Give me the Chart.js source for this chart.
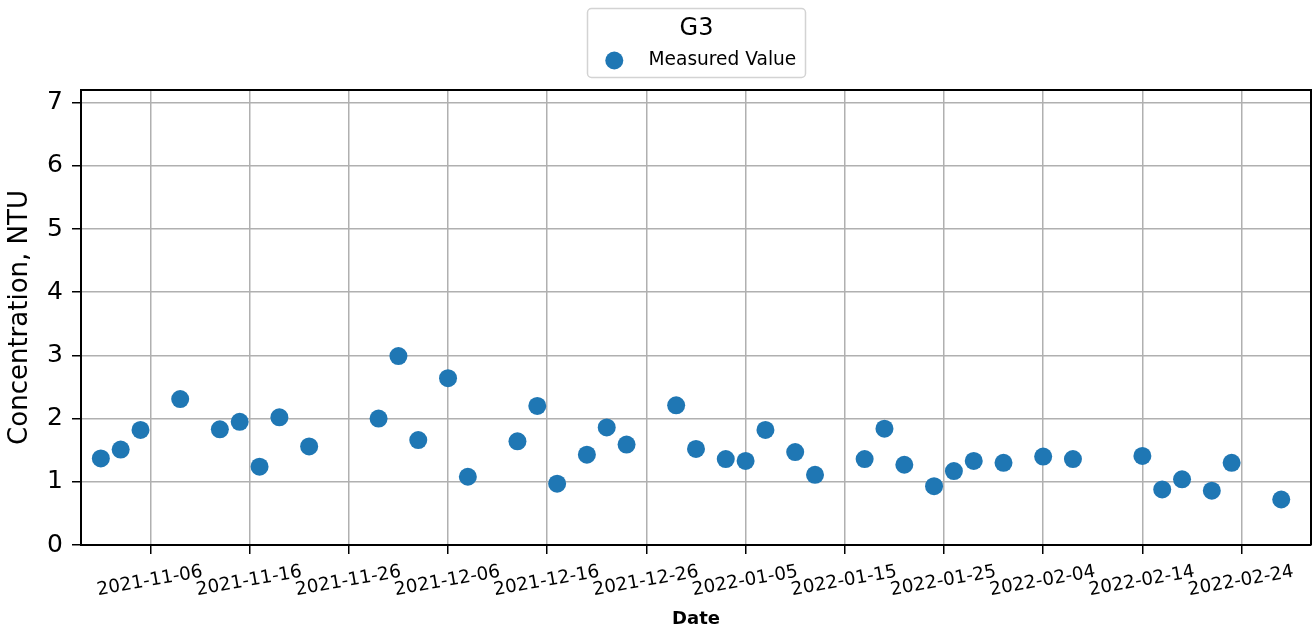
<!DOCTYPE html>
<html>
<head>
<meta charset="utf-8">
<title>G3 turbidity</title>
<script src="https://cdn.jsdelivr.net/npm/chart.js@4.4.1/dist/chart.umd.min.js"></script>
<style>
  html, body { margin: 0; padding: 0; background: #ffffff; overflow: hidden; }
  #wrap { width: 1315px; height: 632px; overflow: hidden; }
  #chart { display: block; }
</style>
</head>
<body>
<div id="wrap"><canvas id="chart" width="1315" height="632"></canvas></div>
<script>
// Station and series names
const stationName = 'G3';
const seriesName = 'Measured Value';

// Sampling dates and measured turbidity (NTU)
const sampleDates = [
  '2021-11-01', '2021-11-03', '2021-11-05', '2021-11-09', '2021-11-13', '2021-11-15',
  '2021-11-17', '2021-11-19', '2021-11-22', '2021-11-29', '2021-12-01', '2021-12-03',
  '2021-12-06', '2021-12-08', '2021-12-13', '2021-12-15', '2021-12-17', '2021-12-20',
  '2021-12-22', '2021-12-24', '2021-12-29', '2021-12-31', '2022-01-03', '2022-01-05',
  '2022-01-07', '2022-01-10', '2022-01-12', '2022-01-17', '2022-01-19', '2022-01-21',
  '2022-01-24', '2022-01-26', '2022-01-28', '2022-01-31', '2022-02-04', '2022-02-07',
  '2022-02-14', '2022-02-16', '2022-02-18', '2022-02-21', '2022-02-23', '2022-02-28'
];
const turbidity = [
  1.37, 1.51, 1.82, 2.31, 1.83, 1.95,
  1.24, 2.02, 1.56, 2.00, 2.99, 1.66,
  2.64, 1.08, 1.64, 2.20, 0.97, 1.43,
  1.86, 1.59, 2.21, 1.52, 1.36, 1.33,
  1.82, 1.47, 1.11, 1.36, 1.84, 1.27,
  0.93, 1.17, 1.33, 1.30, 1.40, 1.36,
  1.41, 0.88, 1.04, 0.86, 1.30, 0.72
];

// Axis ticks and range
const dateTicks = [
  '2021-11-06', '2021-11-16', '2021-11-26', '2021-12-06', '2021-12-16', '2021-12-26',
  '2022-01-05', '2022-01-15', '2022-01-25', '2022-02-04', '2022-02-14', '2022-02-24'
];
const dateRange = ['2021-10-30', '2022-03-03'];
const valueTicks = [0, 1, 2, 3, 4, 5, 6, 7];
const valueRange = [0, 7.2];

const DAY = 86400000;
function toDay(s) {
  const [y, m, d] = s.split('-').map(Number);
  return Date.UTC(y, m - 1, d) / DAY;
}
function fromDay(n) {
  return new Date(Math.round(n) * DAY).toISOString().slice(0, 10);
}

const points = sampleDates.map((d, i) => ({ x: toDay(d), y: turbidity[i] }));

const FONT = "'DejaVu Sans', 'Liberation Sans', sans-serif";
const BLUE = '#1f77b4';
const WIDTH = 1315;
const HEIGHT = 632;
const PLOT_RIGHT = 1311;

// Closes the plot frame on the top and right sides
const frame = {
  id: 'frame',
  afterDatasetsDraw(chart) {
    const { ctx, chartArea: a } = chart;
    ctx.save();
    ctx.strokeStyle = '#000000';
    ctx.lineWidth = 2;
    ctx.beginPath();
    ctx.moveTo(a.left, a.top);
    ctx.lineTo(a.right, a.top);
    ctx.lineTo(a.right, a.bottom);
    ctx.stroke();
    ctx.restore();
  }
};

// Framed legend box with a title above the series entry
const legendBox = {
  id: 'legendBox',
  afterDraw(chart) {
    const { ctx } = chart;
    const ds = chart.data.datasets[0];
    const cx = 696.5;
    const x0 = 587.5, y0 = 8.5, w = 218, h = 69;
    ctx.save();
    ctx.fillStyle = 'rgba(255,255,255,0.8)';
    ctx.strokeStyle = '#d3d3d3';
    ctx.lineWidth = 1.5;
    ctx.beginPath();
    ctx.roundRect(x0, y0, w, h, 4);
    ctx.fill();
    ctx.stroke();

    ctx.fillStyle = '#000000';
    ctx.textAlign = 'center';
    ctx.textBaseline = 'middle';
    ctx.font = `24px ${FONT}`;
    ctx.fillText(stationName, cx, 29);

    ctx.fillStyle = ds.backgroundColor;
    ctx.beginPath();
    ctx.arc(614.3, 60.5, 9, 0, Math.PI * 2);
    ctx.fill();

    ctx.fillStyle = '#000000';
    ctx.textAlign = 'left';
    ctx.font = `18.6px ${FONT}`;
    ctx.fillText(ds.label, 648.5, 60);
    ctx.restore();
  }
};

function buildConfig() {
  return {
    type: 'scatter',
    data: {
      datasets: [{
        label: seriesName,
        data: points,
        backgroundColor: BLUE,
        borderColor: BLUE,
        borderWidth: 0,
        pointRadius: 9,
        pointHoverRadius: 9
      }]
    },
    options: {
      responsive: false,
      animation: false,
      devicePixelRatio: 1,
      layout: { padding: { top: 90, right: 3, left: 0, bottom: 0 } },
      plugins: {
        legend: { display: false },
        tooltip: { enabled: false }
      },
      scales: {
        x: {
          type: 'linear',
          min: toDay(dateRange[0]),
          max: toDay(dateRange[1]),
          afterBuildTicks(scale) {
            scale.ticks = dateTicks.map(d => ({ value: toDay(d) }));
          },
          afterFit(scale) {
            scale.height = 87;
            scale.paddingLeft = 0;
            scale.paddingRight = 0;
          },
          grid: {
            color: '#b0b0b0',
            lineWidth: 1.5,
            tickColor: '#000000',
            tickWidth: 1.5,
            tickLength: 9
          },
          border: { color: '#000000', width: 2 },
          ticks: {
            autoSkip: false,
            minRotation: 10,
            maxRotation: 10,
            labelOffset: 52,
            padding: 7,
            color: '#000000',
            font: { family: FONT, size: 18.4 },
            callback: v => fromDay(v)
          },
          title: {
            display: true,
            text: 'Date',
            color: '#000000',
            font: { family: FONT, size: 18, weight: 'bold' },
            padding: { top: 0, bottom: 2 }
          }
        },
        y: {
          type: 'linear',
          min: valueRange[0],
          max: valueRange[1],
          afterBuildTicks(scale) {
            scale.ticks = valueTicks.map(v => ({ value: v }));
          },
          afterFit(scale) {
            scale.width = 81;
            scale.paddingTop = 0;
            scale.paddingBottom = 0;
          },
          grid: {
            color: '#b0b0b0',
            lineWidth: 1.5,
            tickColor: '#000000',
            tickWidth: 1.5,
            tickLength: 9
          },
          border: { color: '#000000', width: 2 },
          ticks: {
            padding: 9,
            color: '#000000',
            font: { family: FONT, size: 25 },
            callback: v => String(v)
          },
          title: {
            display: true,
            text: 'Concentration, NTU',
            color: '#000000',
            font: { family: FONT, size: 26 },
            padding: { top: 5, bottom: 0 }
          }
        }
      }
    },
    plugins: [frame, legendBox]
  };
}

const canvas = document.getElementById('chart');
let chart = new Chart(canvas, buildConfig());

// The last rotated tick label reserves extra room on the right; rebuild on a
// wider canvas (clipped by the wrapper) so the plot edge sits at PLOT_RIGHT.
const extra = Math.round(PLOT_RIGHT - chart.chartArea.right);
if (extra > 0 && extra < 40) {
  chart.destroy();
  canvas.width = WIDTH + extra;
  canvas.height = HEIGHT;
  canvas.style.width = (WIDTH + extra) + 'px';
  canvas.style.height = HEIGHT + 'px';
  chart = new Chart(canvas, buildConfig());
}
</script>
</body>
</html>
